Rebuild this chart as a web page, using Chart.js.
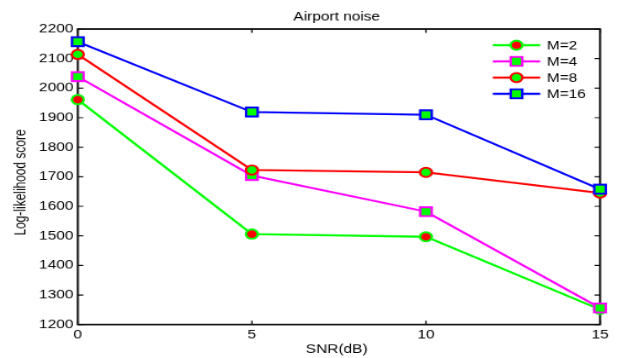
<!DOCTYPE html>
<html>
<head>
<meta charset="utf-8">
<script src="https://cdn.jsdelivr.net/npm/chart.js@4.4.1/dist/chart.umd.min.js"></script>
<style>
  html, body { margin: 0; padding: 0; background: #fff; }
  canvas { display: block; }
</style>
</head>
<body>
<canvas id="myChart" width="560" height="420" style="width:618px;height:358px"></canvas>
<script>
// data
const snr = [0, 5, 10, 15];
const m2 = [1961, 1506, 1497, 1251];
const m4 = [2039, 1704, 1582, 1256];
const m8 = [2114, 1723, 1715, 1645];
const m16 = [2157, 1919, 1910, 1658];
const seriesNames = ['M=2', 'M=4', 'M=8', 'M=16'];
const xTicks = [0, 5, 10, 15];
const yTicks = [1200, 1300, 1400, 1500, 1600, 1700, 1800, 1900, 2000, 2100, 2200];

const FONT = '"Liberation Sans", Arial, Helvetica, sans-serif';
const FONT_SIZE = 14;

function points(values) {
  return snr.map((x, i) => ({x: x, y: values[i]}));
}

function series(label, values, line, fill, shape, radius, order) {
  return {
    label: label,
    data: points(values),
    borderColor: line,
    backgroundColor: line,
    borderWidth: 2.3,
    pointStyle: shape,
    pointRadius: radius,
    pointBorderWidth: 2.2,
    pointBorderColor: line,
    pointBackgroundColor: fill,
    pointHoverRadius: radius,
    tension: 0,
    clip: false,
    order: order
  };
}

const data = {
  datasets: [
    series(seriesNames[0], m2, '#00ff00', '#ff0000', 'circle', 5.4, 4),
    series(seriesNames[1], m4, '#ff00ff', '#00ff00', 'rect', 7.4, 3),
    series(seriesNames[2], m8, '#ff0000', '#00ff00', 'circle', 5.4, 2),
    series(seriesNames[3], m16, '#0000ff', '#00ff00', 'rect', 7.4, 1)
  ]
};

// white page, box around the axes and inward tick marks
const axesBox = {
  id: 'axesBox',
  beforeDraw(chart) {
    const {ctx, width, height} = chart;
    ctx.save();
    ctx.fillStyle = '#fff';
    ctx.fillRect(0, 0, width, height);
    ctx.restore();
  },
  beforeDatasetsDraw(chart) {
    const {ctx, chartArea: {left, right, top, bottom}, scales: {x, y}} = chart;
    ctx.save();
    ctx.strokeStyle = '#000';
    ctx.lineWidth = 1.8;
    ctx.strokeRect(left, top, right - left, bottom - top);
    ctx.lineWidth = 1.2;
    ctx.beginPath();
    x.ticks.forEach(t => {
      const px = x.getPixelForValue(t.value);
      ctx.moveTo(px, bottom); ctx.lineTo(px, bottom - 4.5);
      ctx.moveTo(px, top); ctx.lineTo(px, top + 4.5);
    });
    y.ticks.forEach(t => {
      const py = y.getPixelForValue(t.value);
      ctx.moveTo(left, py); ctx.lineTo(left + 5, py);
      ctx.moveTo(right, py); ctx.lineTo(right - 5, py);
    });
    ctx.stroke();
    ctx.restore();
  },
  afterDraw(chart) {
    const {ctx, chartArea: {left, right}} = chart;
    const cx = (left + right) / 2;
    ctx.save();
    ctx.fillStyle = '#000';
    ctx.font = FONT_SIZE + 'px ' + FONT;
    ctx.textAlign = 'center';
    ctx.textBaseline = 'alphabetic';
    ctx.fillText('Airport noise', cx - 2, 23.5);
    ctx.fillText('SNR(dB)', cx - 2, 413.5);
    ctx.translate(19, 214);
    ctx.rotate(-Math.PI / 2);
    ctx.textBaseline = 'middle';
    ctx.fillText('Log-likelihood score', 0, 0);
    ctx.restore();
  }
};

// legend with line through the marker, top right inside the axes
const lineLegend = {
  id: 'lineLegend',
  afterDatasetsDraw(chart) {
    const {ctx} = chart;
    const x0 = 446.5, x1 = 489.5, xm = 468, xt = 495.5;
    const rows = [53, 72, 91, 110];
    ctx.save();
    ctx.font = FONT_SIZE + 'px ' + FONT;
    ctx.textBaseline = 'middle';
    ctx.textAlign = 'left';
    chart.data.datasets.forEach((ds, i) => {
      const yy = rows[i];
      ctx.strokeStyle = ds.borderColor;
      ctx.lineWidth = ds.borderWidth;
      ctx.beginPath();
      ctx.moveTo(x0, yy);
      ctx.lineTo(x1, yy);
      ctx.stroke();
      ctx.beginPath();
      if (ds.pointStyle === 'circle') {
        ctx.arc(xm, yy, ds.pointRadius, 0, Math.PI * 2);
      } else {
        const s = ds.pointRadius * Math.SQRT1_2;
        ctx.rect(xm - s, yy - s, 2 * s, 2 * s);
      }
      ctx.fillStyle = ds.pointBackgroundColor;
      ctx.fill();
      ctx.lineWidth = ds.pointBorderWidth;
      ctx.strokeStyle = ds.pointBorderColor;
      ctx.stroke();
      ctx.fillStyle = '#000';
      ctx.fillText(ds.label, xt, yy + 1);
    });
    ctx.restore();
  }
};

const config = {
  type: 'line',
  data,
  options: {
    responsive: false,
    animation: false,
    events: [],
    layout: {
      padding: {left: 0, right: 16.3, top: 34, bottom: 0}
    },
    plugins: {
      legend: {display: false},
      title: {display: false},
      tooltip: {enabled: false}
    },
    scales: {
      x: {
        type: 'linear',
        min: 0,
        max: 15,
        grid: {display: false, drawTicks: false},
        border: {display: false},
        afterBuildTicks: scale => { scale.ticks = xTicks.map(v => ({value: v})); },
        afterFit: scale => { scale.height = 39.3; },
        ticks: {
          autoSkip: false,
          maxRotation: 0,
          padding: 4,
          color: '#000',
          font: {family: FONT, size: FONT_SIZE},
          callback: v => String(v)
        }
      },
      y: {
        type: 'linear',
        min: 1200,
        max: 2200,
        grid: {display: false, drawTicks: false},
        border: {display: false},
        afterBuildTicks: scale => { scale.ticks = yTicks.map(v => ({value: v})); },
        afterFit: scale => { scale.width = 70.5; },
        ticks: {
          autoSkip: false,
          padding: 4,
          color: '#000',
          font: {family: FONT, size: FONT_SIZE},
          callback: v => String(v)
        }
      }
    }
  },
  plugins: [axesBox, lineLegend]
};

const myChart = new Chart(document.getElementById('myChart'), config);
</script>
</body>
</html>
